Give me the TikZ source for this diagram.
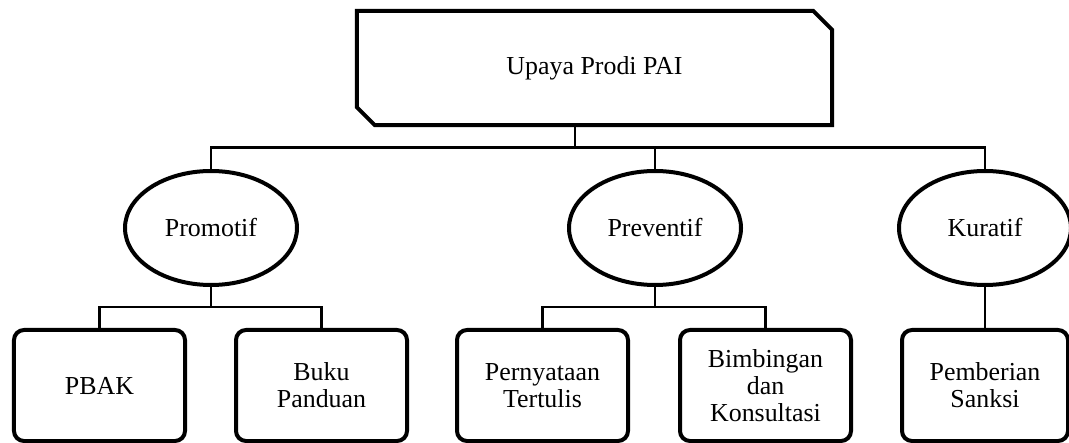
\documentclass[tikz,border=0pt]{standalone}
\usepackage{fontspec}
\setmainfont{Liberation Serif}
\usetikzlibrary{shapes.geometric,calc}
\begin{document}
\begin{tikzpicture}[x=1bp,y=-1bp,
  every node/.style={font=\fontsize{26}{27}\selectfont, inner sep=0pt, align=center},
  heading/.style={minimum width=475bp, minimum height=114bp},
  oval/.style={ellipse, draw, line width=4bp, minimum width=172bp, minimum height=114bp},
  leaf/.style={draw, rounded corners=10bp, line width=4bp, minimum width=171bp, minimum height=111bp},
  link/.style={line width=2.6bp}]
\useasboundingbox (0,0) rectangle (1069,443);

% top box with two chamfered corners
\node[heading] (top) at (594.5,68) {Upaya Prodi PAI};
\draw[line width=4bp, line join=miter]
  (top.north west) -- ($(top.north east)+(-19,0)$) -- ($(top.north east)+(0,19)$)
  -- (top.south east) -- ($(top.south west)+(18,0)$) -- ($(top.south west)+(0,-18)$) -- cycle;

% second level
\node[oval] (pro) at (211,228) {Promotif};
\node[oval] (pre) at (655,228) {Preventif};
\node[oval] (kur) at (985,228) {Kuratif};

% third level
\node[leaf] (pbak) at (99.5,385.5) {PBAK};
\node[leaf] (buku) at (321.5,385.5) {Buku\\Panduan};
\node[leaf] (pern) at (542.5,385.5) {Pernyataan\\Tertulis};
\node[leaf] (bimb) at (765.5,385.5) {Bimbingan\\dan\\Konsultasi};
\node[leaf, minimum width=166bp] (sank) at (985,385.5) {Pemberian\\Sanksi};

% connectors
\coordinate (bus) at (575,147.5);
\coordinate (j1) at (211,307);
\coordinate (j2) at (655,307);

\draw[link] (top.south -| bus) -- (bus);
\draw[link] (pro.north) -- (pro.north |- bus) -- (kur.north |- bus) -- (kur.north);
\draw[link] (pre.north) -- (pre.north |- bus);

\draw[link] (pro.south) -- (j1);
\draw[link] (pbak.north) -- (pbak.north |- j1) -- (buku.north |- j1) -- (buku.north);

\draw[link] (pre.south) -- (j2);
\draw[link] (pern.north) -- (pern.north |- j2) -- (bimb.north |- j2) -- (bimb.north);

\draw[link] (kur.south) -- (sank.north);
\end{tikzpicture}
\end{document}
